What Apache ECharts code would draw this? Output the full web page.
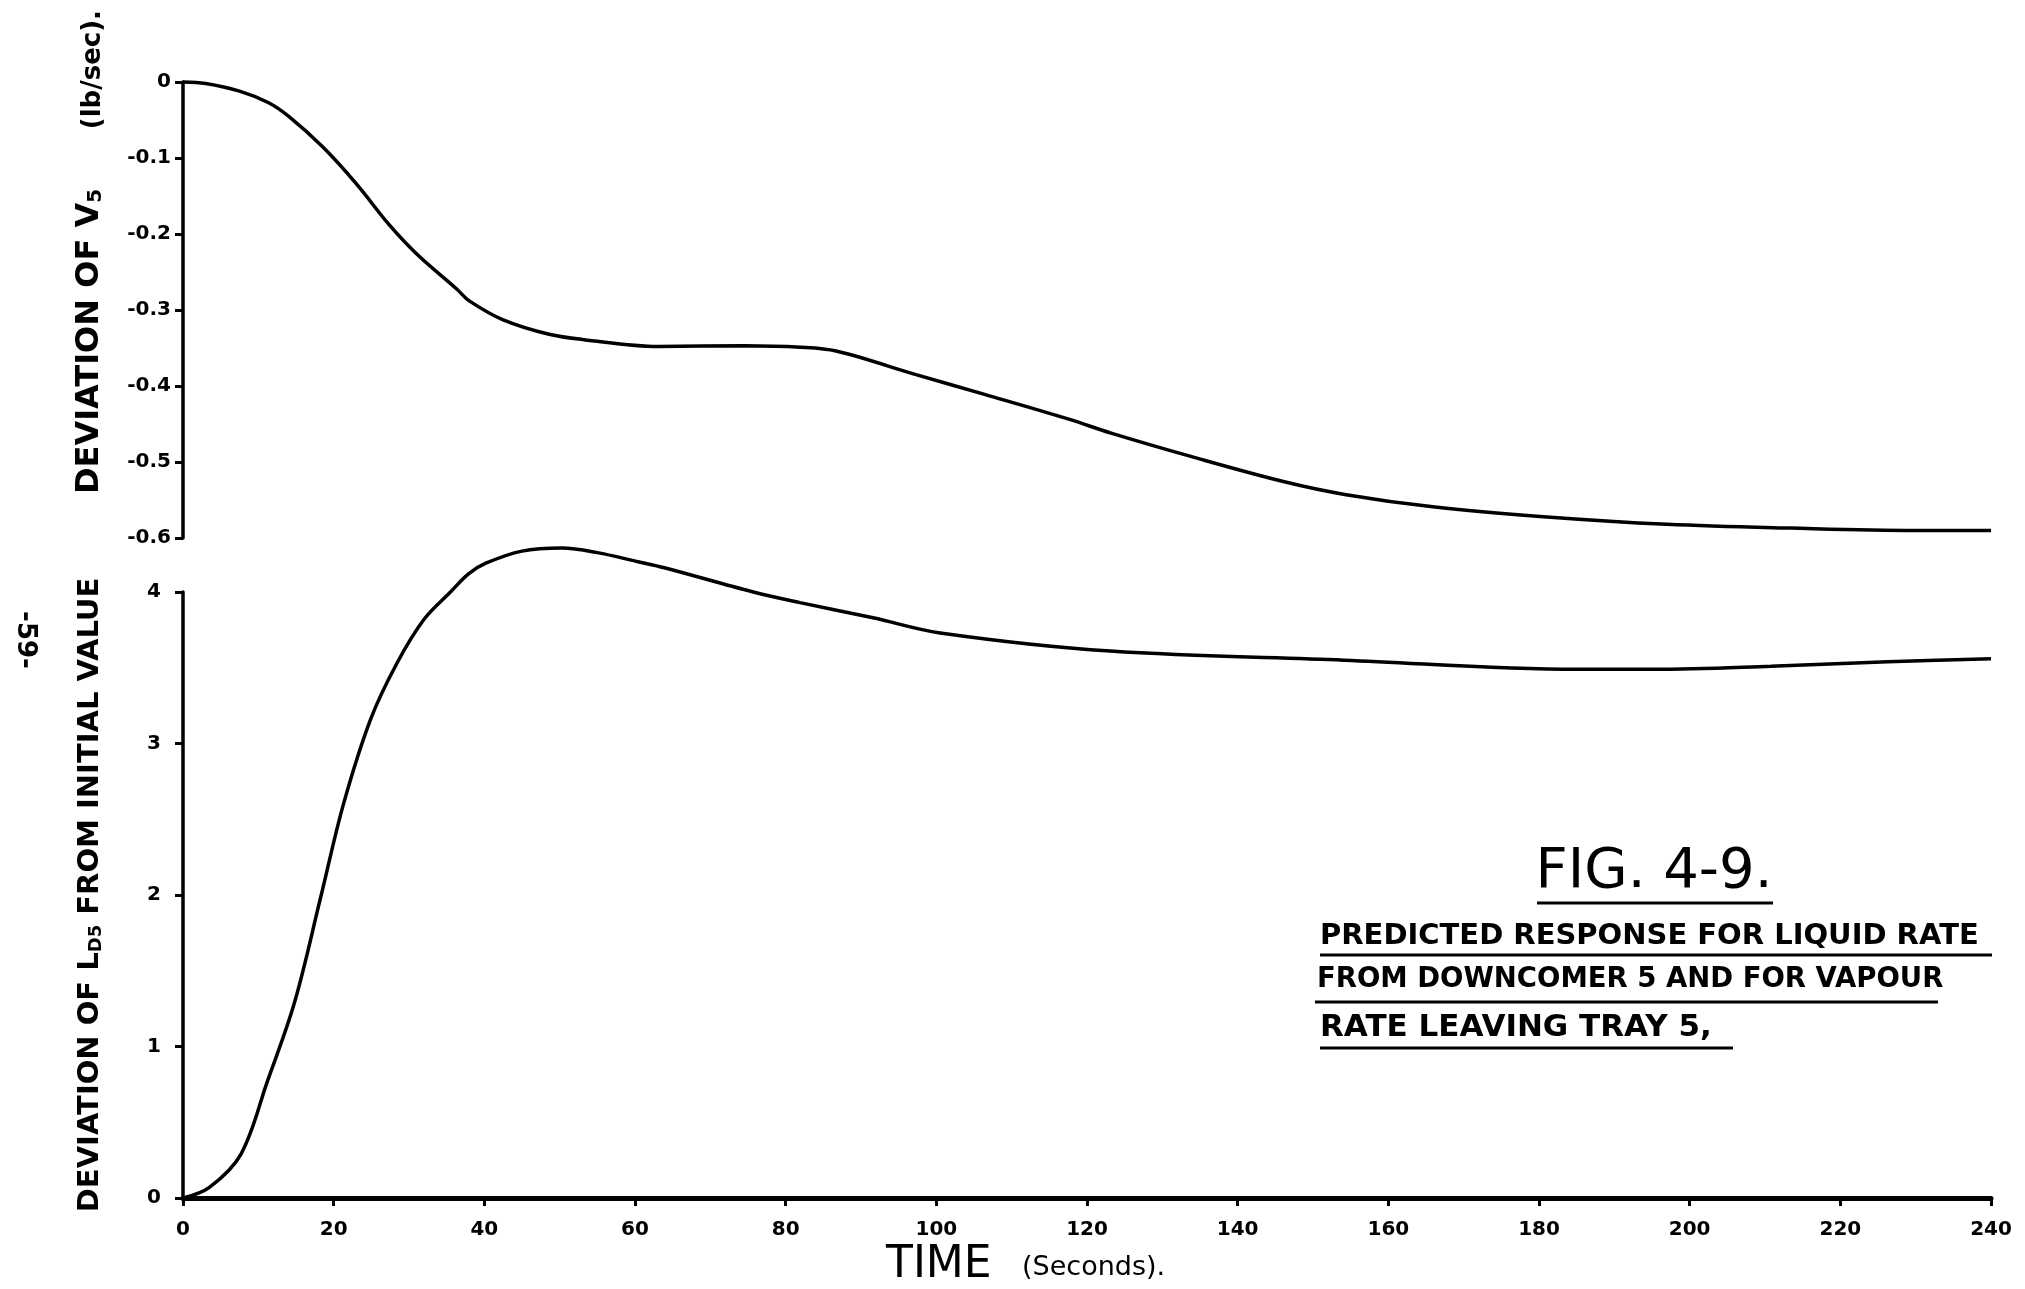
<!DOCTYPE html>
<html>
<head>
<meta charset="utf-8">
<script src="https://cdn.jsdelivr.net/npm/echarts@6/dist/echarts.min.js"></script>
<style>
html,body{margin:0;padding:0;background:#fff;}
#c{width:2025px;height:1289px;}
</style>
</head>
<body>
<div id="c"></div>
<script>
// ---- data ----
const timeV5 = [0, 3, 7.5, 11.3, 14, 18.6, 23.1, 27.3, 31.1, 36.4, 38, 42.5, 48.6, 53.2, 63.1, 74.5, 82, 86.7, 97.3, 106.4, 117.7, 123.2, 133.9, 146.2, 154.4, 165.9, 180.6, 197, 213.4, 229.8, 240];
const devV5  = [0, -0.002, -0.012, -0.027, -0.045, -0.086, -0.135, -0.187, -0.227, -0.273, -0.288, -0.313, -0.332, -0.339, -0.348, -0.347, -0.349, -0.354, -0.385, -0.411, -0.444, -0.462, -0.493, -0.526, -0.543, -0.559, -0.572, -0.582, -0.587, -0.590, -0.590];

const timeLD5 = [0, 3.5, 7.7, 11.2, 14.8, 18.3, 21.3, 24.9, 28.4, 32, 35.5, 37.9, 40.2, 45, 50.3, 55, 60.4, 63.9, 75.7, 81.9, 91.6, 100.5, 123.1, 154.1, 185, 195.3, 210.8, 226.3, 240];
const devLD5  = [0, 0.07, 0.29, 0.77, 1.29, 1.99, 2.60, 3.16, 3.53, 3.82, 4.00, 4.12, 4.19, 4.27, 4.29, 4.26, 4.20, 4.16, 4.00, 3.93, 3.83, 3.73, 3.61, 3.55, 3.49, 3.49, 3.51, 3.54, 3.56];

const timeTicks = [0, 20, 40, 60, 80, 100, 120, 140, 160, 180, 200, 220, 240];
const v5Ticks = [0, -0.1, -0.2, -0.3, -0.4, -0.5, -0.6];
const ld5Ticks = [0, 1, 2, 3, 4];

const captionLines = [
  'PREDICTED RESPONSE FOR LIQUID RATE',
  'FROM DOWNCOMER 5 AND FOR VAPOUR',
  'RATE LEAVING TRAY 5,'
];

// ---- chart ----
const FONT = 'DejaVu Sans';
const INK = '#000';
const pair = (xs, ys) => xs.map((x, i) => [x, ys[i]]);

const chart = echarts.init(document.getElementById('c'), null, {renderer: 'canvas'});

const tickLabelStyle = {color: INK, fontFamily: FONT, fontWeight: 'bold', fontSize: 20};
const textBox = (x, y, text, size, weight, align, rot) => ({
  type: 'text', x: x, y: y, rotation: rot || 0,
  style: {
    text: text, fontFamily: FONT, fontSize: size, fontWeight: weight, fill: INK,
    align: align, verticalAlign: 'middle', textAlign: align, textVerticalAlign: 'middle'
  }
});
const rule = (x1, x2, y) => ({type: 'line', shape: {x1: x1, y1: y, x2: x2, y2: y}, style: {stroke: INK, lineWidth: 3}});

const option = {
  animation: false,
  backgroundColor: '#fff',
  grid: [
    {left: 183, top: 82, width: 1808, height: 456},
    {left: 183, top: 592, width: 1808, height: 606}
  ],
  xAxis: [
    {gridIndex: 0, type: 'value', min: timeTicks[0], max: timeTicks[timeTicks.length - 1], interval: 20, show: false},
    {
      gridIndex: 1, type: 'value', min: timeTicks[0], max: timeTicks[timeTicks.length - 1], interval: 20,
      axisLine: {show: true, onZero: false, lineStyle: {color: INK, width: 5}},
      axisTick: {show: true, length: 8, lineStyle: {color: INK, width: 3}},
      axisLabel: Object.assign({margin: 22}, tickLabelStyle),
      splitLine: {show: false}
    }
  ],
  yAxis: [
    {
      gridIndex: 0, type: 'value', min: v5Ticks[v5Ticks.length - 1], max: v5Ticks[0], interval: 0.1,
      axisLine: {show: true, onZero: false, lineStyle: {color: INK, width: 3.5}},
      axisTick: {show: true, length: 8, lineStyle: {color: INK, width: 3}},
      axisLabel: Object.assign({margin: 12, formatter: v => (Math.abs(v) < 1e-9 ? '0' : v.toFixed(1))}, tickLabelStyle),
      splitLine: {show: false}
    },
    {
      gridIndex: 1, type: 'value', min: ld5Ticks[0], max: ld5Ticks[ld5Ticks.length - 1], interval: 1,
      axisLine: {show: true, onZero: false, lineStyle: {color: INK, width: 3.5}},
      axisTick: {show: true, length: 8, lineStyle: {color: INK, width: 3}},
      axisLabel: Object.assign({margin: 22}, tickLabelStyle),
      splitLine: {show: false},
      name: '{a|DEVIATION OF L}{s|D5}{a| FROM INITIAL VALUE}',
      nameLocation: 'middle',
      nameRotate: 90,
      nameGap: 78,
      nameTextStyle: {
        rich: {
          a: {fontFamily: FONT, fontWeight: 'bold', fontSize: 29, color: INK},
          s: {fontFamily: FONT, fontWeight: 'bold', fontSize: 18, color: INK, verticalAlign: 'bottom'}
        }
      }
    }
  ],
  series: [
    {
      name: 'V5', type: 'line', xAxisIndex: 0, yAxisIndex: 0,
      data: pair(timeV5, devV5), smooth: 0.35, symbol: 'none', showSymbol: false,
      lineStyle: {color: INK, width: 3.5}, clip: false
    },
    {
      name: 'LD5', type: 'line', xAxisIndex: 1, yAxisIndex: 1,
      data: pair(timeLD5, devLD5), smooth: 0.35, symbol: 'none', showSymbol: false,
      lineStyle: {color: INK, width: 3.5}, clip: false
    }
  ],
  graphic: [
    // upper y-axis title
    {
      type: 'text', x: 90, y: 494, rotation: Math.PI / 2,
      style: {
        text: '{a|DEVIATION OF V}{s|5}',
        rich: {
          a: {fontFamily: FONT, fontWeight: 'bold', fontSize: 32, fill: INK, color: INK},
          s: {fontFamily: FONT, fontWeight: 'bold', fontSize: 20, fill: INK, color: INK, verticalAlign: 'bottom'}
        },
        align: 'left', verticalAlign: 'middle', textAlign: 'left', textVerticalAlign: 'middle'
      }
    },
    textBox(93, 10, '(lb/sec).', 26, 'bold', 'right', Math.PI / 2),
    // page number
    textBox(25, 640, '-59-', 26, 'bold', 'center', -Math.PI / 2),
    // x-axis title
    textBox(886, 1266, 'TIME', 44, 'normal', 'left'),
    textBox(1022, 1268, '(Seconds).', 27, 'normal', 'left'),
    // figure title and caption
    textBox(1654, 872, 'FIG. 4-9.', 56, 'normal', 'center'),
    rule(1537, 1773, 903),
    textBox(1320, 936, captionLines[0], 29, 'bold', 'left'),
    rule(1320, 1992, 955),
    textBox(1317, 980, captionLines[1], 27.5, 'bold', 'left'),
    rule(1315, 1938, 1002),
    textBox(1320, 1028, captionLines[2], 31, 'bold', 'left'),
    rule(1320, 1733, 1048)
  ]
};

chart.setOption(option);
</script>
</body>
</html>
